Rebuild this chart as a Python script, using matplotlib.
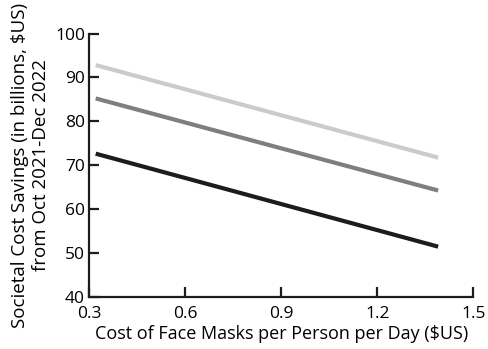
import matplotlib.pyplot as plt

# cost of masks per person per day ($US), start and end of each line
mask_cost = [0.32, 1.39]
# societal cost savings (billions $US)
savings_light = [92.8, 71.7]
savings_mid = [85.2, 64.2]
savings_dark = [72.6, 51.4]

x_ticks = [0.3, 0.6, 0.9, 1.2, 1.5]
y_ticks = [40, 50, 60, 70, 80, 90, 100]

plt.rcParams['font.family'] = ['Open Sans', 'DejaVu Sans']

fig = plt.figure(figsize=(4.89, 3.49), dpi=100)
ax = fig.add_axes([0.1826, 0.150, 0.7854, 0.754])

ax.plot(mask_cost, savings_light, color='#cbcbcb', linewidth=3.0, solid_capstyle='butt')
ax.plot(mask_cost, savings_mid, color='#7f7f7f', linewidth=3.0, solid_capstyle='butt')
ax.plot(mask_cost, savings_dark, color='#1c1c1c', linewidth=3.0, solid_capstyle='butt')

ax.set_xlim(0.3, 1.5)
ax.set_ylim(40, 100)
ax.set_xticks(x_ticks)
ax.set_xticklabels(['0.3', '0.6', '0.9', '1.2', '1.5'])
ax.set_yticks(y_ticks)

for side in ['top', 'right']:
    ax.spines[side].set_visible(False)
for side in ['left', 'bottom']:
    ax.spines[side].set_linewidth(1.6)
    ax.spines[side].set_color('#1c1c1c')

ax.tick_params(direction='in', length=7, width=1.6, color='#1c1c1c',
               labelsize=12.5, pad=3)
ax.tick_params(axis='x', pad=7)

ax.set_xlabel('Cost of Face Masks per Person per Day ($US)', fontsize=13, labelpad=2)
ax.set_ylabel('Societal Cost Savings (in billions, $US)\nfrom Oct 2021-Dec 2022',
              fontsize=13.5, labelpad=4, linespacing=1.15)

fig.savefig('out.png', dpi=100)
